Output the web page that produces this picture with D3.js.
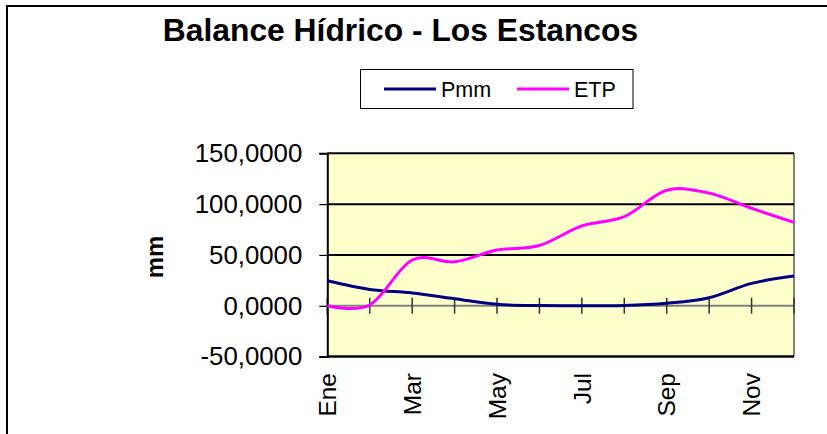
<!DOCTYPE html>
<html>
<head>
<meta charset="utf-8">
<script src="https://cdn.jsdelivr.net/npm/d3@7"></script>
<style>
  html, body { margin: 0; padding: 0; background: #ffffff; }
  svg { display: block; font-family: "Liberation Sans", Arial, sans-serif; }
</style>
</head>
<body>
<svg id="chart" width="827" height="434"></svg>
<script>
// Monthly water balance data (mm)
const months = ["Ene", "Feb", "Mar", "Abr", "May", "Jun", "Jul", "Ago", "Sep", "Oct", "Nov", "Dic"];
const pmm = [24.6, 16.1, 12.6, 7.0, 1.4, 0.2, 0.1, 0.2, 2.4, 7.9, 22.0, 29.2];
const etp = [0, 0.8, 45.0, 43.3, 54.8, 59.3, 78.6, 87.6, 113.6, 110.8, 95.9, 82.1];
const yTicks = [-50, 0, 50, 100, 150];
const gridValues = [50, 100, 150];
const seriesNames = ["Pmm", "ETP"];
const seriesColors = ["#000080", "#FF00FF"];

const svg = d3.select("#chart");
const plot = { left: 327.3, right: 794, top: 153.3, bottom: 356.6 };

const x = d3.scalePoint().domain(months).range([plot.left, plot.right]);
const y = d3.scaleLinear().domain([-50, 150]).range([plot.bottom, plot.top]);

// Outer chart frame
svg.append("rect")
  .attr("x", 7).attr("y", 6).attr("width", 900).attr("height", 500)
  .attr("fill", "none").attr("stroke", "#000").attr("stroke-width", 2);

// Title
svg.append("text")
  .attr("x", 400.5).attr("y", 41)
  .attr("text-anchor", "middle")
  .attr("font-weight", "bold").attr("font-size", 31.8)
  .text("Balance Hídrico - Los Estancos");

// Plot background
svg.append("rect")
  .attr("x", plot.left).attr("y", plot.top)
  .attr("width", plot.right - plot.left).attr("height", plot.bottom - plot.top)
  .attr("fill", "#FFFFCC");

// Right border of plot area
svg.append("line")
  .attr("x1", plot.right).attr("x2", plot.right)
  .attr("y1", plot.top).attr("y2", plot.bottom)
  .attr("stroke", "#808080").attr("stroke-width", 2);

// Major gridlines
svg.append("g").selectAll("line").data(gridValues).join("line")
  .attr("x1", plot.left).attr("x2", plot.right)
  .attr("y1", d => y(d)).attr("y2", d => y(d))
  .attr("stroke", "#000").attr("stroke-width", 2);

// Bottom edge of plot
svg.append("line")
  .attr("x1", plot.left).attr("x2", plot.right)
  .attr("y1", plot.bottom).attr("y2", plot.bottom)
  .attr("stroke", "#000").attr("stroke-width", 2.5);

// Category axis at zero with crossing tick marks
const xAxisG = svg.append("g");
xAxisG.append("line")
  .attr("x1", plot.left).attr("x2", plot.right)
  .attr("y1", y(0)).attr("y2", y(0))
  .attr("stroke", "#808080").attr("stroke-width", 2);
xAxisG.selectAll("line.tick").data(months).join("line")
  .attr("class", "tick")
  .attr("x1", d => x(d)).attr("x2", d => x(d))
  .attr("y1", y(0) - 8).attr("y2", y(0) + 8)
  .attr("stroke", "#333").attr("stroke-width", 1.5);

// Category labels (every other month), rotated
svg.append("g").selectAll("text").data(months.filter((d, i) => i % 2 === 0)).join("text")
  .attr("transform", d => `translate(${x(d) + 8.7},373) rotate(-90)`)
  .attr("text-anchor", "end")
  .attr("font-size", 24.5)
  .text(d => d);

// Value axis (comma decimal, plain hyphen for negatives)
const yAxis = d3.axisLeft(y).tickValues(yTicks).tickSize(8).tickPadding(17)
  .tickFormat(d => d.toFixed(4).replace(".", ","));
const yAxisG = svg.append("g")
  .attr("transform", `translate(${plot.left},0)`)
  .call(yAxis);
yAxisG.select(".domain").attr("stroke", "#000").attr("stroke-width", 2);
yAxisG.selectAll(".tick line").attr("stroke", "#000").attr("stroke-width", 1.2);
yAxisG.selectAll(".tick text")
  .attr("font-size", 25.8).attr("fill", "#000")
  .attr("font-family", "Liberation Sans, Arial, sans-serif");

// Axis title
svg.append("text")
  .attr("transform", "translate(163,257) rotate(-90)")
  .attr("text-anchor", "middle")
  .attr("font-weight", "bold").attr("font-size", 24)
  .text("mm");

// Series lines (smoothed)
const line = d3.line()
  .x((d, i) => x(months[i]))
  .y(d => y(d))
  .curve(d3.curveCatmullRom.alpha(0));

[pmm, etp].forEach((values, k) => {
  svg.append("path")
    .datum(values)
    .attr("d", line)
    .attr("fill", "none")
    .attr("stroke", seriesColors[k])
    .attr("stroke-width", 3)
    .attr("stroke-linejoin", "round");
});

// Legend
const legend = svg.append("g");
legend.append("rect")
  .attr("x", 360.5).attr("y", 69.5).attr("width", 272.5).attr("height", 39)
  .attr("fill", "#fff").attr("stroke", "#000").attr("stroke-width", 1);
const legendX = [384, 517];
seriesNames.forEach((name, k) => {
  legend.append("line")
    .attr("x1", legendX[k]).attr("x2", legendX[k] + 52)
    .attr("y1", 89).attr("y2", 89)
    .attr("stroke", seriesColors[k]).attr("stroke-width", 3);
  legend.append("text")
    .attr("x", legendX[k] + 57).attr("y", 96.5)
    .attr("font-size", 21.5)
    .text(name);
});
</script>
</body>
</html>
